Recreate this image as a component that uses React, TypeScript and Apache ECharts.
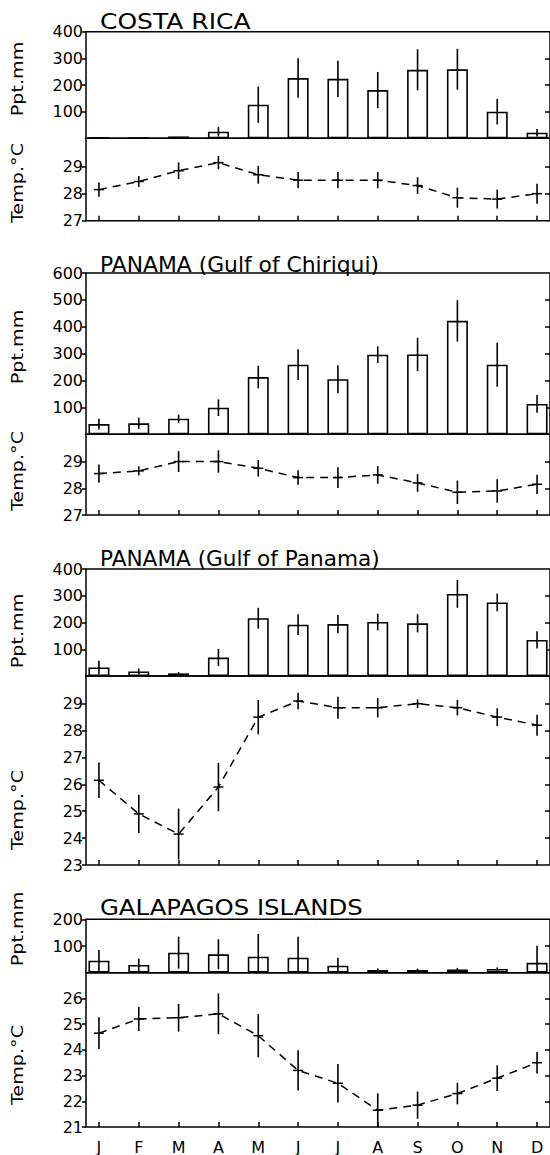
import React, { useEffect, useRef } from "react";
import * as echarts from "echarts";

// ---------- DATA ----------
const months = ["J", "F", "M", "A", "M", "J", "J", "A", "S", "O", "N", "D"];
const monthPos = months.map((_, i) => i + 1);

const costaPpt = [3, 2, 7, 25, 126, 226, 223, 181, 257, 259, 100, 21];
const costaPptErr = [0, 0, 0, 18, 68, 74, 68, 68, 77, 77, 48, 14];
const costaTemp = [28.15, 28.45, 28.85, 29.15, 28.7, 28.5, 28.5, 28.5, 28.3, 27.85, 27.8, 28.0];
const costaTempErr = [0.26, 0.2, 0.31, 0.25, 0.33, 0.3, 0.3, 0.3, 0.31, 0.37, 0.35, 0.37];

const chiriquiPpt = [38, 41, 58, 99, 213, 259, 205, 296, 297, 422, 259, 113];
const chiriquiPptErr = [20, 21, 15, 31, 42, 57, 52, 31, 62, 77, 82, 33];
const chiriquiTemp = [28.55, 28.65, 29.0, 29.0, 28.75, 28.4, 28.4, 28.5, 28.2, 27.85, 27.9, 28.15];
const chiriquiTempErr = [0.34, 0.17, 0.39, 0.42, 0.31, 0.27, 0.39, 0.33, 0.33, 0.44, 0.44, 0.36];

const panamaPpt = [32, 17, 10, 69, 216, 192, 194, 202, 197, 307, 275, 135];
const panamaPptErr = [25, 11, 5, 32, 39, 39, 34, 31, 34, 52, 33, 32];
const panamaTemp = [26.15, 24.9, 24.15, 25.9, 28.5, 29.1, 28.85, 28.85, 29.0, 28.85, 28.5, 28.2];
const panamaTempErr = [0.66, 0.71, 0.95, 0.9, 0.64, 0.31, 0.41, 0.36, 0.16, 0.29, 0.33, 0.39];

const galapagosPpt = [45, 29, 75, 69, 60, 56, 26, 10, 10, 12, 14, 37];
const galapagosPptErr = [40, 24, 60, 56, 85, 79, 30, 6, 5, 6, 6, 64];
const galapagosTemp = [24.65, 25.2, 25.25, 25.4, 24.55, 23.2, 22.7, 21.65, 21.85, 22.3, 22.9, 23.5];
const galapagosTempErr = [0.62, 0.47, 0.54, 0.79, 0.84, 0.78, 0.75, 0.66, 0.53, 0.42, 0.5, 0.42];

const titles = ["COSTA RICA", "PANAMA (Gulf of Chiriqui)", "PANAMA (Gulf of Panama)", "GALAPAGOS ISLANDS"];
const pptName = "Ppt.mm";
const tempName = "Temp.°C";

const costaPptTicks = [100, 200, 300, 400];
const costaTempTicks = [27, 28, 29];
const chiriquiPptTicks = [100, 200, 300, 400, 500, 600];
const chiriquiTempTicks = [27, 28, 29];
const panamaPptTicks = [100, 200, 300, 400];
const panamaTempTicks = [23, 24, 25, 26, 27, 28, 29];
const galapagosPptTicks = [100, 200];
const galapagosTempTicks = [21, 22, 23, 24, 25, 26];

const panels = [
  { ppt: costaPpt, pptErr: costaPptErr, temp: costaTemp, tempErr: costaTempErr, pptTicks: costaPptTicks, tempTicks: costaTempTicks, pptMax: 400, tMin: 27, tMax: 30.05 },
  { ppt: chiriquiPpt, pptErr: chiriquiPptErr, temp: chiriquiTemp, tempErr: chiriquiTempErr, pptTicks: chiriquiPptTicks, tempTicks: chiriquiTempTicks, pptMax: 600, tMin: 27, tMax: 30.02 },
  { ppt: panamaPpt, pptErr: panamaPptErr, temp: panamaTemp, tempErr: panamaTempErr, pptTicks: panamaPptTicks, tempTicks: panamaTempTicks, pptMax: 400, tMin: 23, tMax: 30.03 },
  { ppt: galapagosPpt, pptErr: galapagosPptErr, temp: galapagosTemp, tempErr: galapagosTempErr, pptTicks: galapagosPptTicks, tempTicks: galapagosTempTicks, pptMax: 200, tMin: 21, tMax: 27 },
];

// ---------- LAYOUT ----------
const layout = [
  { pptTop: 31.7, pptBottom: 138.3, tBottom: 220.7, titleY: 28.3, pptNameY: 79, tempNameY: 183, titleScale: 1.19 },
  { pptTop: 273, pptBottom: 434.3, tBottom: 515, titleY: 270.7, pptNameY: 347, tempNameY: 471, titleScale: 1.04 },
  { pptTop: 569, pptBottom: 676, tBottom: 865, titleY: 565, pptNameY: 631, tempNameY: 810, titleScale: 1.03 },
  { pptTop: 919.3, pptBottom: 972.7, tBottom: 1131.7, titleY: 914, pptNameY: 929, tempNameY: 1065, titleScale: 1.16 },
];
const FONT = '"DejaVu Sans", sans-serif';
const GRID_LEFT = 86;
const GRID_WIDTH = 466;
const X_MIN = 0.675;
const X_MAX = 12.325;
const BLACK = "#000";

function errRender(params: any, api: any) {
  const x = api.value(0);
  const lo = api.value(1);
  const hi = api.value(2);
  const p1 = api.coord([x, lo]);
  const p2 = api.coord([x, hi]);
  return {
    type: "group",
    children: [
      { type: "line", shape: { x1: p1[0], y1: p1[1], x2: p2[0], y2: p2[1] }, style: { stroke: BLACK, lineWidth: 1.6 } },
    ],
  };
}

function tempErrRender(params: any, api: any) {
  const x = api.value(0);
  const lo = api.value(1);
  const hi = api.value(2);
  const mid = api.value(3);
  const p1 = api.coord([x, lo]);
  const p2 = api.coord([x, hi]);
  const pc = api.coord([x, mid]);
  return {
    type: "group",
    children: [
      { type: "line", shape: { x1: p1[0], y1: p1[1], x2: p2[0], y2: p2[1] }, style: { stroke: BLACK, lineWidth: 1.6 } },
      { type: "line", shape: { x1: pc[0] - 5, y1: pc[1], x2: pc[0] + 5, y2: pc[1] }, style: { stroke: BLACK, lineWidth: 1.5 } },
    ],
  };
}

function buildOption() {
  const grid: any[] = [];
  const xAxis: any[] = [];
  const yAxis: any[] = [];
  const series: any[] = [];
  const graphic: any[] = [];

  panels.forEach((p, i) => {
    const L = layout[i];
    const pg = i * 2;
    const tg = i * 2 + 1;
    grid.push({ left: GRID_LEFT, width: GRID_WIDTH, top: L.pptTop, height: L.pptBottom - L.pptTop, show: true, borderColor: BLACK, borderWidth: 1.5, backgroundColor: "transparent" });
    grid.push({ left: GRID_LEFT, width: GRID_WIDTH, top: L.pptBottom, height: L.tBottom - L.pptBottom, show: true, borderColor: BLACK, borderWidth: 1.5, backgroundColor: "transparent" });

    [pg, tg].forEach((g) => {
      const isTemp = g === tg;
      xAxis.push({
        gridIndex: g,
        type: "value",
        min: X_MIN,
        max: X_MAX,
        axisLine: { show: false },
        splitLine: { show: false },
        axisTick: { show: isTemp, inside: true, length: 5, lineStyle: { color: BLACK, width: 1.5 }, customValues: monthPos },
        axisLabel: {
          show: g === 7,
          customValues: monthPos,
          formatter: (v: number) => months[Math.round(v) - 1],
          fontSize: 16,
          color: BLACK,
          margin: 12,
          fontFamily: FONT,
        },
      });
    });

    const yDefs = [
      { g: pg, min: 0, max: p.pptMax, ticks: p.pptTicks },
      { g: tg, min: p.tMin, max: p.tMax, ticks: p.tempTicks },
    ];
    yDefs.forEach((d) => {
      yAxis.push({
        gridIndex: d.g,
        type: "value",
        position: "left",
        min: d.min,
        max: d.max,
        axisLine: { show: false },
        splitLine: { show: false },
        axisTick: { show: true, inside: false, length: 4, lineStyle: { color: BLACK, width: 1.5 }, customValues: d.ticks },
        axisLabel: { customValues: d.ticks, fontSize: 16, color: BLACK, margin: 3, fontFamily: FONT },
      });
      const inner = d.ticks.filter((v) => v > d.min && v < d.max);
      yAxis.push({
        gridIndex: d.g,
        type: "value",
        position: "right",
        min: d.min,
        max: d.max,
        axisLine: { show: false },
        splitLine: { show: false },
        axisTick: { show: true, inside: true, length: 5, lineStyle: { color: BLACK, width: 1.5 }, customValues: inner },
        axisLabel: { show: false },
      });
    });

    const pptY = pg * 2;
    const tempY = tg * 2;

    series.push({
      type: "bar",
      xAxisIndex: pg,
      yAxisIndex: pptY,
      barWidth: 21,
      data: p.ppt.map((v, k) => [monthPos[k], v]),
      itemStyle: { color: "#fff", borderColor: BLACK, borderWidth: 1.6 },
      z: 2,
    });
    series.push({
      type: "custom",
      xAxisIndex: pg,
      yAxisIndex: pptY,
      renderItem: errRender,
      encode: { x: 0, y: [1, 2] },
      data: p.ppt.map((v, k) => [monthPos[k], Math.max(v - p.pptErr[k], 0), v + p.pptErr[k]]),
      z: 3,
    });
    series.push({
      type: "line",
      xAxisIndex: tg,
      yAxisIndex: tempY,
      symbol: "none",
      data: p.temp.map((v, k) => [monthPos[k], v]),
      lineStyle: { color: BLACK, width: 1.5, type: [8, 6] },
      z: 2,
    });
    series.push({
      type: "custom",
      xAxisIndex: tg,
      yAxisIndex: tempY,
      renderItem: tempErrRender,
      encode: { x: 0, y: [1, 2] },
      data: p.temp.map((v, k) => [monthPos[k], Math.max(v - p.tempErr[k], p.tMin), v + p.tempErr[k], v]),
      z: 3,
    });

    graphic.push({
      type: "text",
      x: 100,
      y: L.titleY + 4,
      scaleX: L.titleScale,
      style: { text: titles[i], fontSize: 21, fontFamily: FONT, fill: BLACK, align: "left", verticalAlign: "bottom" },
    });
    graphic.push({
      type: "text",
      x: 18,
      y: L.pptNameY,
      rotation: Math.PI / 2,
      scaleX: 1.2,
      style: { text: pptName, fontSize: 16, fontFamily: FONT, fill: BLACK, align: "center", verticalAlign: "middle" },
    });
    graphic.push({
      type: "text",
      x: 18,
      y: L.tempNameY,
      rotation: Math.PI / 2,
      scaleX: 1.2,
      style: { text: tempName, fontSize: 16, fontFamily: FONT, fill: BLACK, align: "center", verticalAlign: "middle" },
    });
  });

  return { animation: false, backgroundColor: "#fff", grid, xAxis, yAxis, series, graphic };
}

export default function App() {
  const ref = useRef<HTMLDivElement>(null);
  useEffect(() => {
    if (!ref.current) return;
    const chart = echarts.init(ref.current, null, { renderer: "svg" });
    chart.setOption(buildOption() as any);
    return () => chart.dispose();
  }, []);
  return <div ref={ref} style={{ position: "absolute", left: 0, top: 0, width: 550, height: 1155 }} />;
}
